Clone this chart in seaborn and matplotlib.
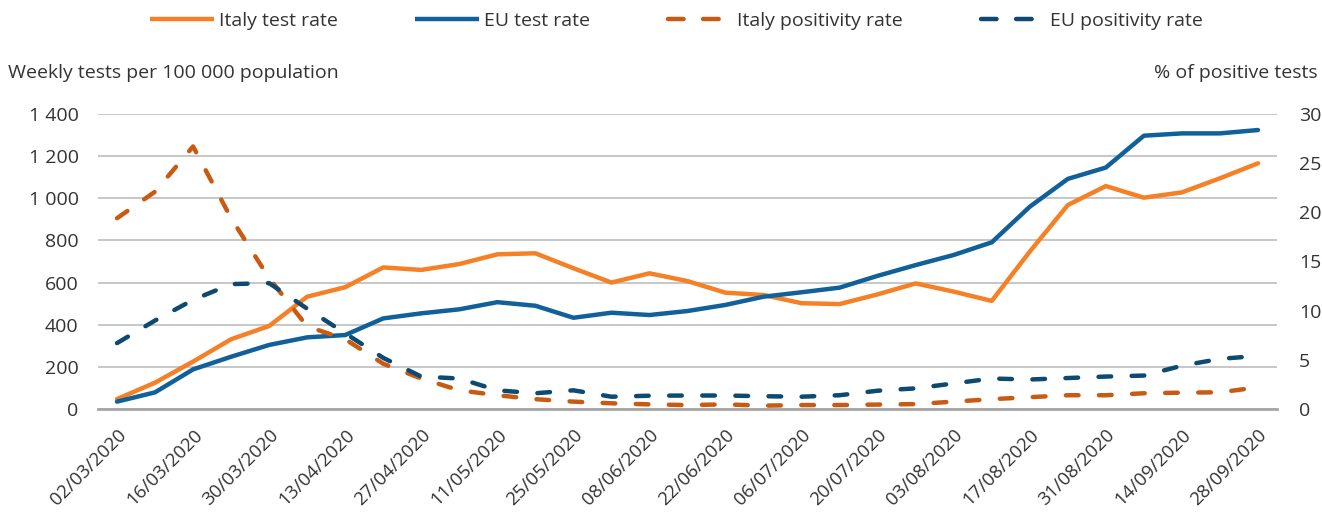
import numpy as np
import pandas as pd
import matplotlib
matplotlib.use("Agg")
import matplotlib.pyplot as plt
import seaborn as sns
from matplotlib.ticker import FuncFormatter, FixedLocator
from matplotlib.lines import Line2D

dates = pd.date_range("2020-03-02", "2020-09-28", freq="7D")
date_labels = [d.strftime("%d/%m/%Y") for d in dates]

italy_test = [47, 125, 225, 331, 394, 533, 578, 672, 660, 688, 734, 739, 668, 600, 644,
              607, 552, 541, 502, 498, 544, 596, 557, 513, 747, 968, 1058, 1003, 1028, 1095, 1166]
eu_test = [35, 79, 188, 248, 304, 340, 351, 430, 454, 473, 507, 490, 433, 457, 446,
           465, 494, 533, 554, 576, 632, 683, 731, 791, 960, 1092, 1146, 1297, 1308, 1308, 1324]
italy_pos = [19.4, 22.1, 26.7, 19.4, 13.3, 8.4, 7.1, 4.6, 3.1, 1.9, 1.4, 1.0, 0.75, 0.58, 0.47,
             0.4, 0.47, 0.34, 0.4, 0.4, 0.45, 0.5, 0.75, 1.0, 1.2, 1.4, 1.4, 1.6, 1.66, 1.7, 2.2]
eu_pos = [6.7, 9.0, 11.1, 12.7, 12.8, 10.2, 7.7, 5.2, 3.3, 3.1, 1.9, 1.6, 1.9, 1.25, 1.35,
          1.37, 1.37, 1.3, 1.25, 1.4, 1.86, 2.1, 2.6, 3.1, 3.0, 3.15, 3.3, 3.4, 4.4, 5.1, 5.4]

series_names = ["Italy test rate", "EU test rate", "Italy positivity rate", "EU positivity rate"]
left_ticks = [0, 200, 400, 600, 800, 1000, 1200, 1400]
right_ticks = [0, 5, 10, 15, 20, 25, 30]

c_it = "#F58025"
c_eu = "#10609A"
c_itp = "#C85A12"
c_eup = "#0C4A72"

sns.set_theme(style="white")
plt.rcParams["font.family"] = ["Open Sans", "DejaVu Sans"]
txt = "#333333"
fs = 14

fig = plt.figure(figsize=(13.22, 5.19), dpi=100)
ax = fig.add_axes([98 / 1322, 1 - 409 / 519, (1277 - 98) / 1322, (409 - 114) / 519])
ax2 = ax.twinx()

idx = np.arange(len(dates))
df_left = pd.DataFrame({"x": idx, "Italy test rate": italy_test, "EU test rate": eu_test})
df_right = pd.DataFrame({"x": idx, "Italy positivity rate": italy_pos, "EU positivity rate": eu_pos})

lw = 3.2
sns.lineplot(data=df_left, x="x", y="Italy test rate", ax=ax, color=c_it, lw=lw,
             solid_capstyle="round", zorder=3)
sns.lineplot(data=df_left, x="x", y="EU test rate", ax=ax, color=c_eu, lw=lw,
             solid_capstyle="round", zorder=3)
dash = (2.85, 4.6)
sns.lineplot(data=df_right, x="x", y="Italy positivity rate", ax=ax2, color=c_itp, lw=lw)
sns.lineplot(data=df_right, x="x", y="EU positivity rate", ax=ax2, color=c_eup, lw=lw)
for ln in ax2.lines:
    ln.set_dashes(dash)
    ln.set_dash_capstyle("round")

ax.set_xlim(-0.5, len(dates) - 0.5)
ax.set_ylim(0, 1400)
ax2.set_ylim(0, 30)
ax.yaxis.set_major_locator(FixedLocator(left_ticks))
ax2.yaxis.set_major_locator(FixedLocator(right_ticks))
ax.yaxis.set_major_formatter(FuncFormatter(lambda v, p: f"{int(v):,}".replace(",", " ")))

tick_pos = idx[::2]
ax.set_xticks(tick_pos)
ax.set_xticklabels([date_labels[i] for i in tick_pos], rotation=45, ha="right",
                   rotation_mode="anchor", fontsize=13.5, color=txt)
ax.tick_params(axis="x", length=0, pad=12)
ax.tick_params(axis="y", length=0, pad=14, labelsize=fs, labelcolor=txt)
ax2.tick_params(axis="y", length=0, pad=16, labelsize=fs, labelcolor=txt)

ax.grid(axis="y", color="#BEBEBE", lw=1.2)
ax.grid(axis="x", visible=False)
ax2.grid(False)
ax.set_axisbelow(True)
for a in (ax, ax2):
    for s in ["top", "left", "right"]:
        a.spines[s].set_visible(False)
    a.spines["bottom"].set_color("#A6A6A6")
    a.spines["bottom"].set_linewidth(2)
    a.set_xlabel("")
    a.set_ylabel("")
ax2.spines["bottom"].set_visible(False)

fig.text(8 / 1322, 1 - 73 / 519, "Weekly tests per 100 000 population", fontsize=fs,
         color=txt, ha="left", va="center")
fig.text(1318 / 1322, 1 - 73 / 519, "% of positive tests", fontsize=fs,
         color=txt, ha="right", va="center")

leg_dash = (3.5, 4.4)
handles = [
    Line2D([], [], color=c_it, lw=lw, solid_capstyle="butt"),
    Line2D([], [], color=c_eu, lw=lw, solid_capstyle="butt"),
    Line2D([], [], color=c_itp, lw=lw, dashes=leg_dash, dash_capstyle="round"),
    Line2D([], [], color=c_eup, lw=lw, dashes=leg_dash, dash_capstyle="round"),
]
leg = fig.legend(handles, series_names, loc="center", bbox_to_anchor=(676 / 1322, 1 - 21 / 519),
                 ncol=4, frameon=False, fontsize=fs, handlelength=3.3, handletextpad=0.25,
                 columnspacing=4.0)
for t in leg.get_texts():
    t.set_color(txt)

fig.savefig("out.png", dpi=100)
